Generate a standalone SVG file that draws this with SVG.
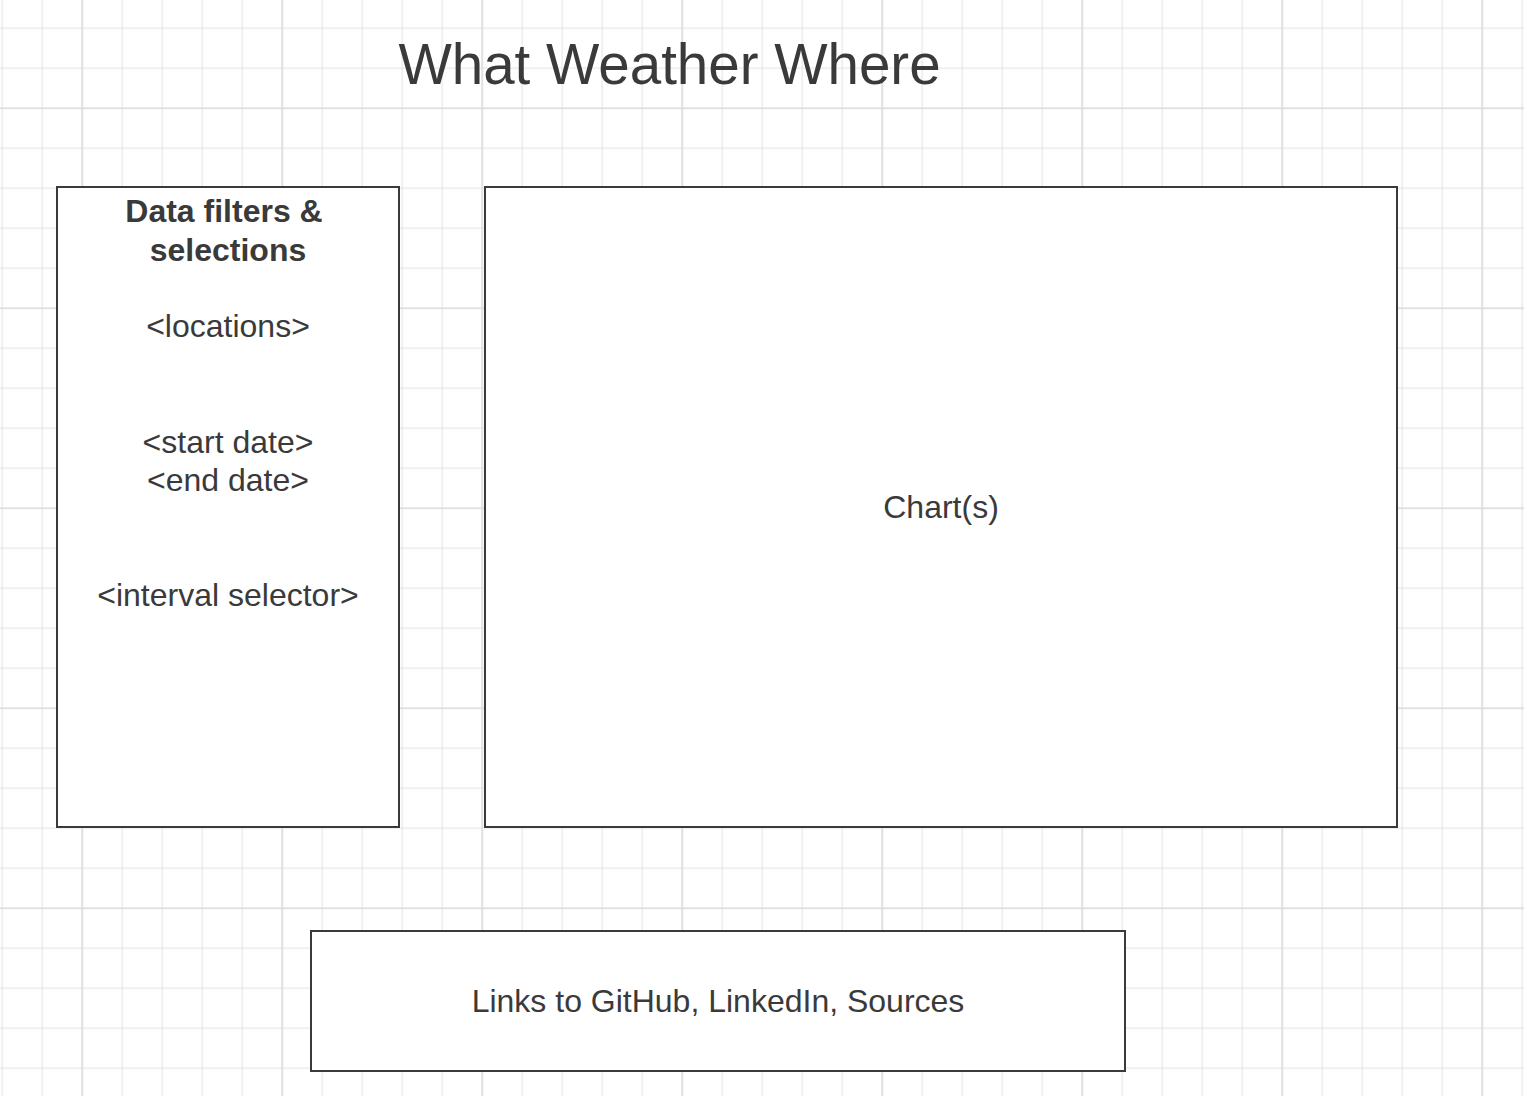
<svg xmlns="http://www.w3.org/2000/svg" width="1524" height="1096" viewBox="0 0 1524 1096">
<defs>
<pattern id="minor" patternUnits="userSpaceOnUse" x="1.5" y="27.5" width="40" height="40">
<path d="M0.5 0V40M0 0.5H40" stroke="#e6e6e6" stroke-width="1.5" fill="none"/>
</pattern>
<pattern id="major" patternUnits="userSpaceOnUse" x="81.5" y="107.5" width="200" height="200">
<path d="M0.5 0V200M0 0.5H200" stroke="#dadada" stroke-width="1.6" fill="none"/>
</pattern>
</defs>
<style>
.box{fill:#ffffff;stroke:#3a3a3a;stroke-width:2}
.t{font-family:"Liberation Sans",Arial,sans-serif;font-size:32px;fill:#3a3a3a;text-anchor:middle}
.b{font-weight:bold}
.title{font-family:"Liberation Sans",Arial,sans-serif;font-size:56.5px;fill:#3a3a3a;text-anchor:middle}
</style>
<rect width="1524" height="1096" fill="#ffffff"/>
<rect width="1524" height="1096" fill="url(#minor)"/>
<rect width="1524" height="1096" fill="url(#major)"/>
<g id="title">
<text class="title" x="669.5" y="84">What Weather Where</text>
</g>
<g id="filters">
<rect class="box" x="57" y="187" width="342" height="640"/>
<text class="t b" x="224" y="222">Data filters &amp;</text>
<text class="t b" x="228" y="260.5">selections</text>
<text class="t" x="228" y="337">&lt;locations&gt;</text>
<text class="t" x="228" y="452.5">&lt;start date&gt;</text>
<text class="t" x="228" y="491">&lt;end date&gt;</text>
<text class="t" x="228" y="606">&lt;interval selector&gt;</text>
</g>
<g id="charts">
<rect class="box" x="485" y="187" width="912" height="640"/>
<text class="t" x="941" y="518">Chart(s)</text>
</g>
<g id="links">
<rect class="box" x="311" y="931" width="814" height="140"/>
<text class="t" x="718" y="1012">Links to GitHub, LinkedIn, Sources</text>
</g>
<g id="connectors"/>
</svg>
